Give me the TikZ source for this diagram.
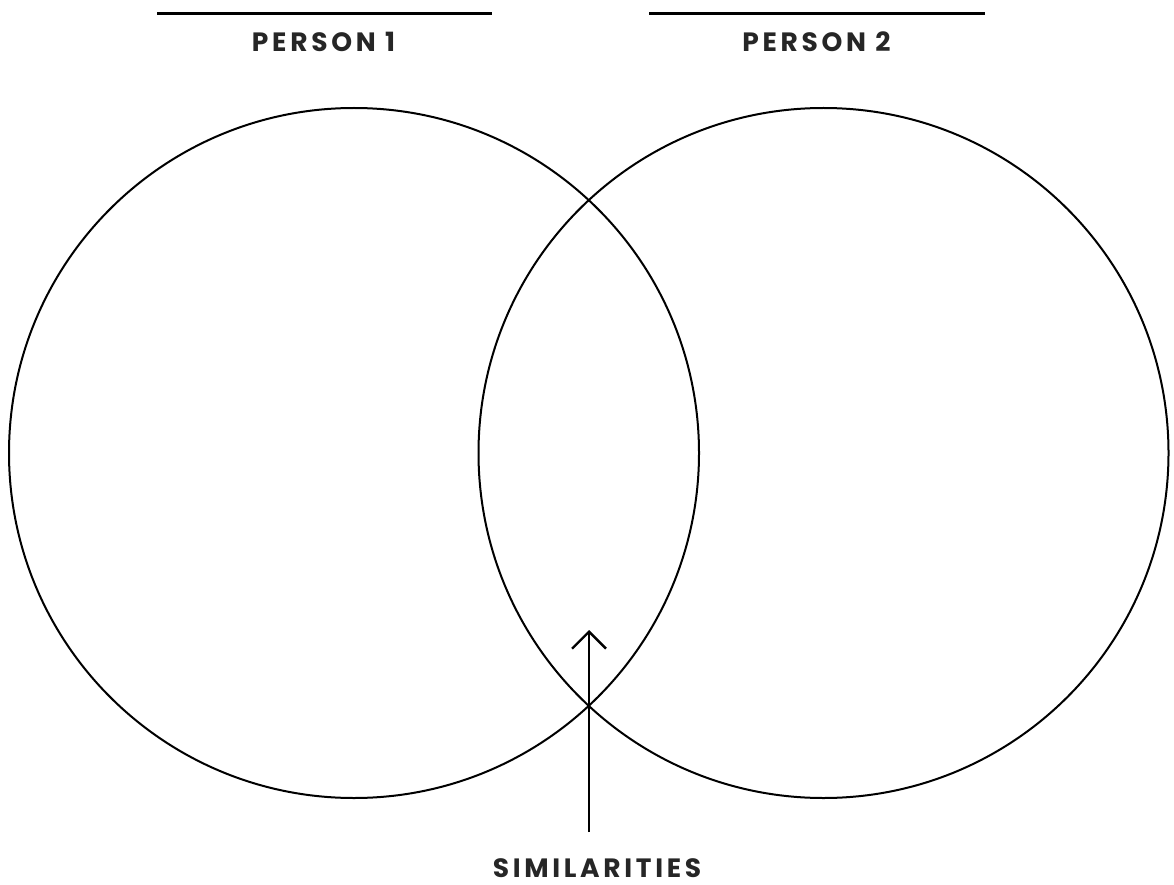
\documentclass[tikz,border=0pt]{standalone}
\usepackage{fontspec}
\setmainfont{Poppins}[LetterSpace=14]
\usetikzlibrary{arrows.meta}
\tikzset{
  ring/.style={draw=black,line width=2pt},
  rule/.style={draw=black,line width=3pt},
  lbl/.style={font=\bfseries\fontsize{26.5}{31}\selectfont,text=black!85,inner sep=0pt,anchor=base},
  pointer/.style={draw=black,line width=2.4pt,-{Straight Barb[length=17pt,width=34pt,line width=2.4pt]}}
}
\begin{document}
\begin{tikzpicture}[x=1pt,y=-1pt]
\useasboundingbox (0,0) rectangle (1174,885);
\fill[white] (0,0) rectangle (1174,885);
\coordinate (l1a) at (157,14);
\coordinate (l1b) at (492,14);
\coordinate (l2a) at (649,14);
\coordinate (l2b) at (985,14);
\draw[rule] (l1a) -- (l1b);
\draw[rule] (l2a) -- (l2b);
\node[lbl] (p1) at (323.5,52) {PERSON 1};
\node[lbl] (p2) at (816.5,52) {PERSON 2};
\node[ring,circle,minimum size=690pt,inner sep=0pt] (c1) at (354,453) {};
\node[ring,circle,minimum size=690pt,inner sep=0pt] (c2) at (823.5,453) {};
\coordinate (tail) at (589,832);
\coordinate (tip) at (589,630);
\draw[pointer] (tail) -- (tip);
\node[lbl] (sim) at (597,877) {SIMILARITIES};
\end{tikzpicture}
\end{document}
